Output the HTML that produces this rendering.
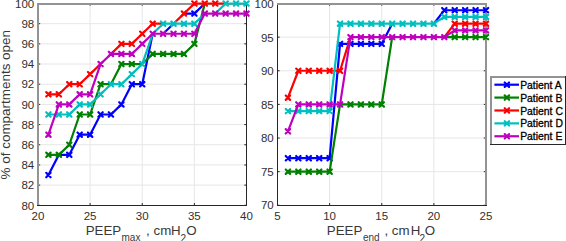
<!DOCTYPE html>
<html><head><meta charset="utf-8"><title>PEEP chart</title>
<style>
html,body{margin:0;padding:0;background:#fff;}
body{width:566px;height:241px;overflow:hidden;font-family:"Liberation Sans", sans-serif;}
svg{display:block;}
</style></head><body>
<svg width="566" height="241" viewBox="0 0 566 241" font-family='"Liberation Sans", sans-serif' fill="#303030"><defs><clipPath id="cl"><rect x="38.0" y="0" width="213.5" height="208.3"/></clipPath><clipPath id="cr"><rect x="277.5" y="0" width="213.5" height="208.3"/></clipPath></defs><line x1="90.12" y1="3.50" x2="90.12" y2="205.30" stroke="#e6e6e6" stroke-width="1"/><line x1="142.25" y1="3.50" x2="142.25" y2="205.30" stroke="#e6e6e6" stroke-width="1"/><line x1="194.38" y1="3.50" x2="194.38" y2="205.30" stroke="#e6e6e6" stroke-width="1"/><line x1="38.00" y1="185.12" x2="246.50" y2="185.12" stroke="#e6e6e6" stroke-width="1"/><line x1="38.00" y1="164.94" x2="246.50" y2="164.94" stroke="#e6e6e6" stroke-width="1"/><line x1="38.00" y1="144.76" x2="246.50" y2="144.76" stroke="#e6e6e6" stroke-width="1"/><line x1="38.00" y1="124.58" x2="246.50" y2="124.58" stroke="#e6e6e6" stroke-width="1"/><line x1="38.00" y1="104.40" x2="246.50" y2="104.40" stroke="#e6e6e6" stroke-width="1"/><line x1="38.00" y1="84.22" x2="246.50" y2="84.22" stroke="#e6e6e6" stroke-width="1"/><line x1="38.00" y1="64.04" x2="246.50" y2="64.04" stroke="#e6e6e6" stroke-width="1"/><line x1="38.00" y1="43.86" x2="246.50" y2="43.86" stroke="#e6e6e6" stroke-width="1"/><line x1="38.00" y1="23.68" x2="246.50" y2="23.68" stroke="#e6e6e6" stroke-width="1"/><line x1="38.00" y1="205.30" x2="38.00" y2="203.10" stroke="#262626" stroke-width="1"/><line x1="38.00" y1="3.50" x2="38.00" y2="5.70" stroke="#262626" stroke-width="1"/><line x1="90.12" y1="205.30" x2="90.12" y2="203.10" stroke="#262626" stroke-width="1"/><line x1="90.12" y1="3.50" x2="90.12" y2="5.70" stroke="#262626" stroke-width="1"/><line x1="142.25" y1="205.30" x2="142.25" y2="203.10" stroke="#262626" stroke-width="1"/><line x1="142.25" y1="3.50" x2="142.25" y2="5.70" stroke="#262626" stroke-width="1"/><line x1="194.38" y1="205.30" x2="194.38" y2="203.10" stroke="#262626" stroke-width="1"/><line x1="194.38" y1="3.50" x2="194.38" y2="5.70" stroke="#262626" stroke-width="1"/><line x1="246.50" y1="205.30" x2="246.50" y2="203.10" stroke="#262626" stroke-width="1"/><line x1="246.50" y1="3.50" x2="246.50" y2="5.70" stroke="#262626" stroke-width="1"/><line x1="38.00" y1="205.30" x2="40.20" y2="205.30" stroke="#262626" stroke-width="1"/><line x1="246.50" y1="205.30" x2="244.30" y2="205.30" stroke="#262626" stroke-width="1"/><line x1="38.00" y1="185.12" x2="40.20" y2="185.12" stroke="#262626" stroke-width="1"/><line x1="246.50" y1="185.12" x2="244.30" y2="185.12" stroke="#262626" stroke-width="1"/><line x1="38.00" y1="164.94" x2="40.20" y2="164.94" stroke="#262626" stroke-width="1"/><line x1="246.50" y1="164.94" x2="244.30" y2="164.94" stroke="#262626" stroke-width="1"/><line x1="38.00" y1="144.76" x2="40.20" y2="144.76" stroke="#262626" stroke-width="1"/><line x1="246.50" y1="144.76" x2="244.30" y2="144.76" stroke="#262626" stroke-width="1"/><line x1="38.00" y1="124.58" x2="40.20" y2="124.58" stroke="#262626" stroke-width="1"/><line x1="246.50" y1="124.58" x2="244.30" y2="124.58" stroke="#262626" stroke-width="1"/><line x1="38.00" y1="104.40" x2="40.20" y2="104.40" stroke="#262626" stroke-width="1"/><line x1="246.50" y1="104.40" x2="244.30" y2="104.40" stroke="#262626" stroke-width="1"/><line x1="38.00" y1="84.22" x2="40.20" y2="84.22" stroke="#262626" stroke-width="1"/><line x1="246.50" y1="84.22" x2="244.30" y2="84.22" stroke="#262626" stroke-width="1"/><line x1="38.00" y1="64.04" x2="40.20" y2="64.04" stroke="#262626" stroke-width="1"/><line x1="246.50" y1="64.04" x2="244.30" y2="64.04" stroke="#262626" stroke-width="1"/><line x1="38.00" y1="43.86" x2="40.20" y2="43.86" stroke="#262626" stroke-width="1"/><line x1="246.50" y1="43.86" x2="244.30" y2="43.86" stroke="#262626" stroke-width="1"/><line x1="38.00" y1="23.68" x2="40.20" y2="23.68" stroke="#262626" stroke-width="1"/><line x1="246.50" y1="23.68" x2="244.30" y2="23.68" stroke="#262626" stroke-width="1"/><line x1="38.00" y1="3.50" x2="40.20" y2="3.50" stroke="#262626" stroke-width="1"/><line x1="246.50" y1="3.50" x2="244.30" y2="3.50" stroke="#262626" stroke-width="1"/><rect x="37" y="3" width="2" height="203" fill="#939393"/><rect x="37" y="3" width="210" height="2" fill="#939393"/><rect x="246" y="3" width="1" height="203" fill="#262626"/><rect x="37" y="205" width="210" height="1" fill="#262626"/><g clip-path="url(#cl)"><path d="M48.42 175.03L58.85 154.85L69.28 154.85L79.70 134.67L90.12 134.67L100.55 114.49L110.97 114.49L121.40 104.40L131.82 84.22L142.25 84.22L152.68 33.77" stroke="#0000ff" stroke-width="2.2" fill="none" stroke-linejoin="round" stroke-linecap="butt"/><path d="M163.10 33.77L173.53 23.68" stroke="#0000ff" stroke-width="2.2" fill="none" stroke-linejoin="round" stroke-linecap="butt"/><path d="M183.95 13.59L194.38 13.59L204.80 3.50" stroke="#0000ff" stroke-width="2.2" fill="none" stroke-linejoin="round" stroke-linecap="butt"/><path d="M46.22 172.83L50.62 177.23M46.22 177.23L50.62 172.83" stroke="#0000ff" stroke-width="2.2" fill="none" stroke-linecap="round"/><path d="M67.08 152.65L71.48 157.05M67.08 157.05L71.48 152.65" stroke="#0000ff" stroke-width="2.2" fill="none" stroke-linecap="round"/><path d="M77.50 132.47L81.90 136.87M77.50 136.87L81.90 132.47" stroke="#0000ff" stroke-width="2.2" fill="none" stroke-linecap="round"/><path d="M87.92 132.47L92.33 136.87M87.92 136.87L92.33 132.47" stroke="#0000ff" stroke-width="2.2" fill="none" stroke-linecap="round"/><path d="M98.35 112.29L102.75 116.69M98.35 116.69L102.75 112.29" stroke="#0000ff" stroke-width="2.2" fill="none" stroke-linecap="round"/><path d="M108.77 112.29L113.17 116.69M108.77 116.69L113.17 112.29" stroke="#0000ff" stroke-width="2.2" fill="none" stroke-linecap="round"/><path d="M119.20 102.20L123.60 106.60M119.20 106.60L123.60 102.20" stroke="#0000ff" stroke-width="2.2" fill="none" stroke-linecap="round"/><path d="M129.62 82.02L134.02 86.42M129.62 86.42L134.02 82.02" stroke="#0000ff" stroke-width="2.2" fill="none" stroke-linecap="round"/><path d="M140.05 82.02L144.45 86.42M140.05 86.42L144.45 82.02" stroke="#0000ff" stroke-width="2.2" fill="none" stroke-linecap="round"/><path d="M192.18 11.39L196.57 15.79M192.18 15.79L196.57 11.39" stroke="#0000ff" stroke-width="2.2" fill="none" stroke-linecap="round"/></g><g clip-path="url(#cl)"><path d="M48.42 154.85L58.85 154.85L69.28 144.76L79.70 114.49L90.12 114.49L100.55 84.22L110.97 84.22L121.40 64.04L131.82 64.04L142.25 64.04L152.68 53.95L163.10 53.95L173.53 53.95L183.95 53.95L194.38 43.86L204.80 3.50" stroke="#008000" stroke-width="2.2" fill="none" stroke-linejoin="round" stroke-linecap="butt"/><path d="M46.22 152.65L50.62 157.05M46.22 157.05L50.62 152.65" stroke="#008000" stroke-width="2.2" fill="none" stroke-linecap="round"/><path d="M56.65 152.65L61.05 157.05M56.65 157.05L61.05 152.65" stroke="#008000" stroke-width="2.2" fill="none" stroke-linecap="round"/><path d="M67.08 142.56L71.48 146.96M67.08 146.96L71.48 142.56" stroke="#008000" stroke-width="2.2" fill="none" stroke-linecap="round"/><path d="M77.50 112.29L81.90 116.69M77.50 116.69L81.90 112.29" stroke="#008000" stroke-width="2.2" fill="none" stroke-linecap="round"/><path d="M87.92 112.29L92.33 116.69M87.92 116.69L92.33 112.29" stroke="#008000" stroke-width="2.2" fill="none" stroke-linecap="round"/><path d="M98.35 82.02L102.75 86.42M98.35 86.42L102.75 82.02" stroke="#008000" stroke-width="2.2" fill="none" stroke-linecap="round"/><path d="M119.20 61.84L123.60 66.24M119.20 66.24L123.60 61.84" stroke="#008000" stroke-width="2.2" fill="none" stroke-linecap="round"/><path d="M129.62 61.84L134.02 66.24M129.62 66.24L134.02 61.84" stroke="#008000" stroke-width="2.2" fill="none" stroke-linecap="round"/><path d="M150.48 51.75L154.88 56.15M150.48 56.15L154.88 51.75" stroke="#008000" stroke-width="2.2" fill="none" stroke-linecap="round"/><path d="M160.90 51.75L165.30 56.15M160.90 56.15L165.30 51.75" stroke="#008000" stroke-width="2.2" fill="none" stroke-linecap="round"/><path d="M171.33 51.75L175.72 56.15M171.33 56.15L175.72 51.75" stroke="#008000" stroke-width="2.2" fill="none" stroke-linecap="round"/><path d="M181.75 51.75L186.15 56.15M181.75 56.15L186.15 51.75" stroke="#008000" stroke-width="2.2" fill="none" stroke-linecap="round"/><path d="M192.18 41.66L196.57 46.06M192.18 46.06L196.57 41.66" stroke="#008000" stroke-width="2.2" fill="none" stroke-linecap="round"/></g><g clip-path="url(#cl)"><path d="M48.42 94.31L58.85 94.31L69.28 84.22L79.70 84.22L90.12 74.13L100.55 64.04" stroke="#ff0000" stroke-width="2.2" fill="none" stroke-linejoin="round" stroke-linecap="butt"/><path d="M110.97 53.95L121.40 43.86L131.82 43.86L142.25 33.77L152.68 23.68L163.10 23.68" stroke="#ff0000" stroke-width="2.2" fill="none" stroke-linejoin="round" stroke-linecap="butt"/><path d="M173.53 23.68L183.95 13.59L194.38 3.50L204.80 3.50L215.22 3.50L225.65 3.50" stroke="#ff0000" stroke-width="2.2" fill="none" stroke-linejoin="round" stroke-linecap="butt"/><path d="M46.22 92.11L50.62 96.51M46.22 96.51L50.62 92.11" stroke="#ff0000" stroke-width="2.2" fill="none" stroke-linecap="round"/><path d="M56.65 92.11L61.05 96.51M56.65 96.51L61.05 92.11" stroke="#ff0000" stroke-width="2.2" fill="none" stroke-linecap="round"/><path d="M67.08 82.02L71.48 86.42M67.08 86.42L71.48 82.02" stroke="#ff0000" stroke-width="2.2" fill="none" stroke-linecap="round"/><path d="M77.50 82.02L81.90 86.42M77.50 86.42L81.90 82.02" stroke="#ff0000" stroke-width="2.2" fill="none" stroke-linecap="round"/><path d="M87.92 71.93L92.33 76.33M87.92 76.33L92.33 71.93" stroke="#ff0000" stroke-width="2.2" fill="none" stroke-linecap="round"/><path d="M119.20 41.66L123.60 46.06M119.20 46.06L123.60 41.66" stroke="#ff0000" stroke-width="2.2" fill="none" stroke-linecap="round"/><path d="M129.62 41.66L134.02 46.06M129.62 46.06L134.02 41.66" stroke="#ff0000" stroke-width="2.2" fill="none" stroke-linecap="round"/><path d="M140.05 31.57L144.45 35.97M140.05 35.97L144.45 31.57" stroke="#ff0000" stroke-width="2.2" fill="none" stroke-linecap="round"/><path d="M150.48 21.48L154.88 25.88M150.48 25.88L154.88 21.48" stroke="#ff0000" stroke-width="2.2" fill="none" stroke-linecap="round"/><path d="M181.75 11.39L186.15 15.79M181.75 15.79L186.15 11.39" stroke="#ff0000" stroke-width="2.2" fill="none" stroke-linecap="round"/><path d="M192.18 1.30L196.57 5.70M192.18 5.70L196.57 1.30" stroke="#ff0000" stroke-width="2.2" fill="none" stroke-linecap="round"/><path d="M202.60 1.30L207.00 5.70M202.60 5.70L207.00 1.30" stroke="#ff0000" stroke-width="2.2" fill="none" stroke-linecap="round"/><path d="M213.03 1.30L217.42 5.70M213.03 5.70L217.42 1.30" stroke="#ff0000" stroke-width="2.2" fill="none" stroke-linecap="round"/></g><g clip-path="url(#cl)"><path d="M48.42 114.49L58.85 114.49L69.28 114.49L79.70 104.40L90.12 104.40L100.55 94.31L110.97 84.22L121.40 84.22L131.82 74.13L142.25 64.04L152.68 33.77L163.10 23.68L173.53 23.68L183.95 23.68L194.38 23.68L204.80 13.59" stroke="#00bfbf" stroke-width="2.2" fill="none" stroke-linejoin="round" stroke-linecap="butt"/><path d="M215.22 13.59L225.65 3.50L236.07 3.50L246.50 3.50" stroke="#00bfbf" stroke-width="2.2" fill="none" stroke-linejoin="round" stroke-linecap="butt"/><path d="M46.22 112.29L50.62 116.69M46.22 116.69L50.62 112.29" stroke="#00bfbf" stroke-width="2.2" fill="none" stroke-linecap="round"/><path d="M56.65 112.29L61.05 116.69M56.65 116.69L61.05 112.29" stroke="#00bfbf" stroke-width="2.2" fill="none" stroke-linecap="round"/><path d="M67.08 112.29L71.48 116.69M67.08 116.69L71.48 112.29" stroke="#00bfbf" stroke-width="2.2" fill="none" stroke-linecap="round"/><path d="M77.50 102.20L81.90 106.60M77.50 106.60L81.90 102.20" stroke="#00bfbf" stroke-width="2.2" fill="none" stroke-linecap="round"/><path d="M87.92 102.20L92.33 106.60M87.92 106.60L92.33 102.20" stroke="#00bfbf" stroke-width="2.2" fill="none" stroke-linecap="round"/><path d="M98.35 92.11L102.75 96.51M98.35 96.51L102.75 92.11" stroke="#00bfbf" stroke-width="2.2" fill="none" stroke-linecap="round"/><path d="M108.77 82.02L113.17 86.42M108.77 86.42L113.17 82.02" stroke="#00bfbf" stroke-width="2.2" fill="none" stroke-linecap="round"/><path d="M119.20 82.02L123.60 86.42M119.20 86.42L123.60 82.02" stroke="#00bfbf" stroke-width="2.2" fill="none" stroke-linecap="round"/><path d="M129.62 71.93L134.02 76.33M129.62 76.33L134.02 71.93" stroke="#00bfbf" stroke-width="2.2" fill="none" stroke-linecap="round"/><path d="M140.05 61.84L144.45 66.24M140.05 66.24L144.45 61.84" stroke="#00bfbf" stroke-width="2.2" fill="none" stroke-linecap="round"/><path d="M160.90 21.48L165.30 25.88M160.90 25.88L165.30 21.48" stroke="#00bfbf" stroke-width="2.2" fill="none" stroke-linecap="round"/><path d="M171.33 21.48L175.72 25.88M171.33 25.88L175.72 21.48" stroke="#00bfbf" stroke-width="2.2" fill="none" stroke-linecap="round"/><path d="M181.75 21.48L186.15 25.88M181.75 25.88L186.15 21.48" stroke="#00bfbf" stroke-width="2.2" fill="none" stroke-linecap="round"/><path d="M192.18 21.48L196.57 25.88M192.18 25.88L196.57 21.48" stroke="#00bfbf" stroke-width="2.2" fill="none" stroke-linecap="round"/><path d="M223.45 1.30L227.85 5.70M223.45 5.70L227.85 1.30" stroke="#00bfbf" stroke-width="2.2" fill="none" stroke-linecap="round"/><path d="M233.88 1.30L238.27 5.70M233.88 5.70L238.27 1.30" stroke="#00bfbf" stroke-width="2.2" fill="none" stroke-linecap="round"/><path d="M244.30 1.30L248.70 5.70M244.30 5.70L248.70 1.30" stroke="#00bfbf" stroke-width="2.2" fill="none" stroke-linecap="round"/></g><g clip-path="url(#cl)"><path d="M48.42 134.67L58.85 104.40L69.28 104.40L79.70 94.31L90.12 94.31L100.55 64.04L110.97 53.95L121.40 53.95L131.82 53.95L142.25 43.86L152.68 33.77L163.10 33.77L173.53 33.77L183.95 33.77L194.38 33.77L204.80 13.59L215.22 13.59L225.65 13.59L236.07 13.59L246.50 13.59" stroke="#bf00bf" stroke-width="2.2" fill="none" stroke-linejoin="round" stroke-linecap="butt"/><path d="M46.22 132.47L50.62 136.87M46.22 136.87L50.62 132.47" stroke="#bf00bf" stroke-width="2.2" fill="none" stroke-linecap="round"/><path d="M56.65 102.20L61.05 106.60M56.65 106.60L61.05 102.20" stroke="#bf00bf" stroke-width="2.2" fill="none" stroke-linecap="round"/><path d="M67.08 102.20L71.48 106.60M67.08 106.60L71.48 102.20" stroke="#bf00bf" stroke-width="2.2" fill="none" stroke-linecap="round"/><path d="M77.50 92.11L81.90 96.51M77.50 96.51L81.90 92.11" stroke="#bf00bf" stroke-width="2.2" fill="none" stroke-linecap="round"/><path d="M87.92 92.11L92.33 96.51M87.92 96.51L92.33 92.11" stroke="#bf00bf" stroke-width="2.2" fill="none" stroke-linecap="round"/><path d="M98.35 61.84L102.75 66.24M98.35 66.24L102.75 61.84" stroke="#bf00bf" stroke-width="2.2" fill="none" stroke-linecap="round"/><path d="M108.77 51.75L113.17 56.15M108.77 56.15L113.17 51.75" stroke="#bf00bf" stroke-width="2.2" fill="none" stroke-linecap="round"/><path d="M119.20 51.75L123.60 56.15M119.20 56.15L123.60 51.75" stroke="#bf00bf" stroke-width="2.2" fill="none" stroke-linecap="round"/><path d="M129.62 51.75L134.02 56.15M129.62 56.15L134.02 51.75" stroke="#bf00bf" stroke-width="2.2" fill="none" stroke-linecap="round"/><path d="M140.05 41.66L144.45 46.06M140.05 46.06L144.45 41.66" stroke="#bf00bf" stroke-width="2.2" fill="none" stroke-linecap="round"/><path d="M150.48 31.57L154.88 35.97M150.48 35.97L154.88 31.57" stroke="#bf00bf" stroke-width="2.2" fill="none" stroke-linecap="round"/><path d="M160.90 31.57L165.30 35.97M160.90 35.97L165.30 31.57" stroke="#bf00bf" stroke-width="2.2" fill="none" stroke-linecap="round"/><path d="M171.33 31.57L175.72 35.97M171.33 35.97L175.72 31.57" stroke="#bf00bf" stroke-width="2.2" fill="none" stroke-linecap="round"/><path d="M181.75 31.57L186.15 35.97M181.75 35.97L186.15 31.57" stroke="#bf00bf" stroke-width="2.2" fill="none" stroke-linecap="round"/><path d="M192.18 31.57L196.57 35.97M192.18 35.97L196.57 31.57" stroke="#bf00bf" stroke-width="2.2" fill="none" stroke-linecap="round"/><path d="M202.60 11.39L207.00 15.79M202.60 15.79L207.00 11.39" stroke="#bf00bf" stroke-width="2.2" fill="none" stroke-linecap="round"/><path d="M213.03 11.39L217.42 15.79M213.03 15.79L217.42 11.39" stroke="#bf00bf" stroke-width="2.2" fill="none" stroke-linecap="round"/><path d="M223.45 11.39L227.85 15.79M223.45 15.79L227.85 11.39" stroke="#bf00bf" stroke-width="2.2" fill="none" stroke-linecap="round"/><path d="M233.88 11.39L238.27 15.79M233.88 15.79L238.27 11.39" stroke="#bf00bf" stroke-width="2.2" fill="none" stroke-linecap="round"/><path d="M244.30 11.39L248.70 15.79M244.30 15.79L248.70 11.39" stroke="#bf00bf" stroke-width="2.2" fill="none" stroke-linecap="round"/></g><text x="38.00" y="219.8" text-anchor="middle" font-size="11.5">20</text><text x="90.12" y="219.8" text-anchor="middle" font-size="11.5">25</text><text x="142.25" y="219.8" text-anchor="middle" font-size="11.5">30</text><text x="194.38" y="219.8" text-anchor="middle" font-size="11.5">35</text><text x="246.50" y="219.8" text-anchor="middle" font-size="11.5">40</text><text x="34.20" y="210.30" text-anchor="end" font-size="11.5">80</text><text x="34.20" y="189.22" text-anchor="end" font-size="11.5">82</text><text x="34.20" y="169.04" text-anchor="end" font-size="11.5">84</text><text x="34.20" y="148.86" text-anchor="end" font-size="11.5">86</text><text x="34.20" y="128.68" text-anchor="end" font-size="11.5">88</text><text x="34.20" y="108.50" text-anchor="end" font-size="11.5">90</text><text x="34.20" y="88.32" text-anchor="end" font-size="11.5">92</text><text x="34.20" y="68.14" text-anchor="end" font-size="11.5">94</text><text x="34.20" y="47.96" text-anchor="end" font-size="11.5">96</text><text x="34.20" y="27.78" text-anchor="end" font-size="11.5">98</text><text x="34.20" y="7.60" text-anchor="end" font-size="11.5">100</text><line x1="329.62" y1="3.50" x2="329.62" y2="205.30" stroke="#e6e6e6" stroke-width="1"/><line x1="381.75" y1="3.50" x2="381.75" y2="205.30" stroke="#e6e6e6" stroke-width="1"/><line x1="433.88" y1="3.50" x2="433.88" y2="205.30" stroke="#e6e6e6" stroke-width="1"/><line x1="277.50" y1="171.67" x2="486.00" y2="171.67" stroke="#e6e6e6" stroke-width="1"/><line x1="277.50" y1="138.03" x2="486.00" y2="138.03" stroke="#e6e6e6" stroke-width="1"/><line x1="277.50" y1="104.40" x2="486.00" y2="104.40" stroke="#e6e6e6" stroke-width="1"/><line x1="277.50" y1="70.77" x2="486.00" y2="70.77" stroke="#e6e6e6" stroke-width="1"/><line x1="277.50" y1="37.13" x2="486.00" y2="37.13" stroke="#e6e6e6" stroke-width="1"/><line x1="277.50" y1="205.30" x2="277.50" y2="203.10" stroke="#262626" stroke-width="1"/><line x1="277.50" y1="3.50" x2="277.50" y2="5.70" stroke="#262626" stroke-width="1"/><line x1="329.62" y1="205.30" x2="329.62" y2="203.10" stroke="#262626" stroke-width="1"/><line x1="329.62" y1="3.50" x2="329.62" y2="5.70" stroke="#262626" stroke-width="1"/><line x1="381.75" y1="205.30" x2="381.75" y2="203.10" stroke="#262626" stroke-width="1"/><line x1="381.75" y1="3.50" x2="381.75" y2="5.70" stroke="#262626" stroke-width="1"/><line x1="433.88" y1="205.30" x2="433.88" y2="203.10" stroke="#262626" stroke-width="1"/><line x1="433.88" y1="3.50" x2="433.88" y2="5.70" stroke="#262626" stroke-width="1"/><line x1="486.00" y1="205.30" x2="486.00" y2="203.10" stroke="#262626" stroke-width="1"/><line x1="486.00" y1="3.50" x2="486.00" y2="5.70" stroke="#262626" stroke-width="1"/><line x1="277.50" y1="205.30" x2="279.70" y2="205.30" stroke="#262626" stroke-width="1"/><line x1="486.00" y1="205.30" x2="483.80" y2="205.30" stroke="#262626" stroke-width="1"/><line x1="277.50" y1="171.67" x2="279.70" y2="171.67" stroke="#262626" stroke-width="1"/><line x1="486.00" y1="171.67" x2="483.80" y2="171.67" stroke="#262626" stroke-width="1"/><line x1="277.50" y1="138.03" x2="279.70" y2="138.03" stroke="#262626" stroke-width="1"/><line x1="486.00" y1="138.03" x2="483.80" y2="138.03" stroke="#262626" stroke-width="1"/><line x1="277.50" y1="104.40" x2="279.70" y2="104.40" stroke="#262626" stroke-width="1"/><line x1="486.00" y1="104.40" x2="483.80" y2="104.40" stroke="#262626" stroke-width="1"/><line x1="277.50" y1="70.77" x2="279.70" y2="70.77" stroke="#262626" stroke-width="1"/><line x1="486.00" y1="70.77" x2="483.80" y2="70.77" stroke="#262626" stroke-width="1"/><line x1="277.50" y1="37.13" x2="279.70" y2="37.13" stroke="#262626" stroke-width="1"/><line x1="486.00" y1="37.13" x2="483.80" y2="37.13" stroke="#262626" stroke-width="1"/><line x1="277.50" y1="3.50" x2="279.70" y2="3.50" stroke="#262626" stroke-width="1"/><line x1="486.00" y1="3.50" x2="483.80" y2="3.50" stroke="#262626" stroke-width="1"/><rect x="277" y="3" width="1" height="203" fill="#262626"/><rect x="277" y="3" width="210" height="2" fill="#939393"/><rect x="485" y="3" width="2" height="203" fill="#939393"/><rect x="277" y="205" width="210" height="1" fill="#262626"/><g clip-path="url(#cr)"><path d="M287.93 158.21L298.35 158.21L308.77 158.21L319.20 158.21L329.62 158.21L340.05 43.86L350.48 43.86L360.90 43.86L371.32 43.86L381.75 43.86L392.18 23.68" stroke="#0000ff" stroke-width="2.2" fill="none" stroke-linejoin="round" stroke-linecap="butt"/><path d="M433.88 23.68L444.30 10.23L454.73 10.23L465.15 10.23L475.57 10.23L486.00 10.23" stroke="#0000ff" stroke-width="2.2" fill="none" stroke-linejoin="round" stroke-linecap="butt"/><path d="M285.73 156.01L290.12 160.41M285.73 160.41L290.12 156.01" stroke="#0000ff" stroke-width="2.2" fill="none" stroke-linecap="round"/><path d="M296.15 156.01L300.55 160.41M296.15 160.41L300.55 156.01" stroke="#0000ff" stroke-width="2.2" fill="none" stroke-linecap="round"/><path d="M306.57 156.01L310.97 160.41M306.57 160.41L310.97 156.01" stroke="#0000ff" stroke-width="2.2" fill="none" stroke-linecap="round"/><path d="M317.00 156.01L321.40 160.41M317.00 160.41L321.40 156.01" stroke="#0000ff" stroke-width="2.2" fill="none" stroke-linecap="round"/><path d="M327.43 156.01L331.82 160.41M327.43 160.41L331.82 156.01" stroke="#0000ff" stroke-width="2.2" fill="none" stroke-linecap="round"/><path d="M337.85 41.66L342.25 46.06M337.85 46.06L342.25 41.66" stroke="#0000ff" stroke-width="2.2" fill="none" stroke-linecap="round"/><path d="M348.28 41.66L352.68 46.06M348.28 46.06L352.68 41.66" stroke="#0000ff" stroke-width="2.2" fill="none" stroke-linecap="round"/><path d="M358.70 41.66L363.10 46.06M358.70 46.06L363.10 41.66" stroke="#0000ff" stroke-width="2.2" fill="none" stroke-linecap="round"/><path d="M369.12 41.66L373.52 46.06M369.12 46.06L373.52 41.66" stroke="#0000ff" stroke-width="2.2" fill="none" stroke-linecap="round"/><path d="M379.55 41.66L383.95 46.06M379.55 46.06L383.95 41.66" stroke="#0000ff" stroke-width="2.2" fill="none" stroke-linecap="round"/><path d="M442.10 8.03L446.50 12.43M442.10 12.43L446.50 8.03" stroke="#0000ff" stroke-width="2.2" fill="none" stroke-linecap="round"/><path d="M452.53 8.03L456.93 12.43M452.53 12.43L456.93 8.03" stroke="#0000ff" stroke-width="2.2" fill="none" stroke-linecap="round"/><path d="M462.95 8.03L467.35 12.43M462.95 12.43L467.35 8.03" stroke="#0000ff" stroke-width="2.2" fill="none" stroke-linecap="round"/><path d="M473.38 8.03L477.77 12.43M473.38 12.43L477.77 8.03" stroke="#0000ff" stroke-width="2.2" fill="none" stroke-linecap="round"/><path d="M483.80 8.03L488.20 12.43M483.80 12.43L488.20 8.03" stroke="#0000ff" stroke-width="2.2" fill="none" stroke-linecap="round"/></g><g clip-path="url(#cr)"><path d="M287.93 171.67L298.35 171.67L308.77 171.67L319.20 171.67L329.62 171.67L340.05 104.40L350.48 104.40L360.90 104.40L371.32 104.40L381.75 104.40L392.18 37.13" stroke="#008000" stroke-width="2.2" fill="none" stroke-linejoin="round" stroke-linecap="butt"/><path d="M444.30 37.13L454.73 37.13L465.15 37.13L475.57 37.13L486.00 37.13" stroke="#008000" stroke-width="2.2" fill="none" stroke-linejoin="round" stroke-linecap="butt"/><path d="M285.73 169.47L290.12 173.87M285.73 173.87L290.12 169.47" stroke="#008000" stroke-width="2.2" fill="none" stroke-linecap="round"/><path d="M296.15 169.47L300.55 173.87M296.15 173.87L300.55 169.47" stroke="#008000" stroke-width="2.2" fill="none" stroke-linecap="round"/><path d="M306.57 169.47L310.97 173.87M306.57 173.87L310.97 169.47" stroke="#008000" stroke-width="2.2" fill="none" stroke-linecap="round"/><path d="M317.00 169.47L321.40 173.87M317.00 173.87L321.40 169.47" stroke="#008000" stroke-width="2.2" fill="none" stroke-linecap="round"/><path d="M327.43 169.47L331.82 173.87M327.43 173.87L331.82 169.47" stroke="#008000" stroke-width="2.2" fill="none" stroke-linecap="round"/><path d="M348.28 102.20L352.68 106.60M348.28 106.60L352.68 102.20" stroke="#008000" stroke-width="2.2" fill="none" stroke-linecap="round"/><path d="M358.70 102.20L363.10 106.60M358.70 106.60L363.10 102.20" stroke="#008000" stroke-width="2.2" fill="none" stroke-linecap="round"/><path d="M369.12 102.20L373.52 106.60M369.12 106.60L373.52 102.20" stroke="#008000" stroke-width="2.2" fill="none" stroke-linecap="round"/><path d="M379.55 102.20L383.95 106.60M379.55 106.60L383.95 102.20" stroke="#008000" stroke-width="2.2" fill="none" stroke-linecap="round"/><path d="M452.53 34.93L456.93 39.33M452.53 39.33L456.93 34.93" stroke="#008000" stroke-width="2.2" fill="none" stroke-linecap="round"/><path d="M462.95 34.93L467.35 39.33M462.95 39.33L467.35 34.93" stroke="#008000" stroke-width="2.2" fill="none" stroke-linecap="round"/><path d="M473.38 34.93L477.77 39.33M473.38 39.33L477.77 34.93" stroke="#008000" stroke-width="2.2" fill="none" stroke-linecap="round"/><path d="M483.80 34.93L488.20 39.33M483.80 39.33L488.20 34.93" stroke="#008000" stroke-width="2.2" fill="none" stroke-linecap="round"/></g><g clip-path="url(#cr)"><path d="M287.93 97.67L298.35 70.77L308.77 70.77L319.20 70.77L329.62 70.77L340.05 70.77L350.48 37.13" stroke="#ff0000" stroke-width="2.2" fill="none" stroke-linejoin="round" stroke-linecap="butt"/><path d="M444.30 37.13L454.73 23.68L465.15 23.68L475.57 23.68L486.00 23.68" stroke="#ff0000" stroke-width="2.2" fill="none" stroke-linejoin="round" stroke-linecap="butt"/><path d="M285.73 95.47L290.12 99.87M285.73 99.87L290.12 95.47" stroke="#ff0000" stroke-width="2.2" fill="none" stroke-linecap="round"/><path d="M296.15 68.57L300.55 72.97M296.15 72.97L300.55 68.57" stroke="#ff0000" stroke-width="2.2" fill="none" stroke-linecap="round"/><path d="M306.57 68.57L310.97 72.97M306.57 72.97L310.97 68.57" stroke="#ff0000" stroke-width="2.2" fill="none" stroke-linecap="round"/><path d="M317.00 68.57L321.40 72.97M317.00 72.97L321.40 68.57" stroke="#ff0000" stroke-width="2.2" fill="none" stroke-linecap="round"/><path d="M327.43 68.57L331.82 72.97M327.43 72.97L331.82 68.57" stroke="#ff0000" stroke-width="2.2" fill="none" stroke-linecap="round"/><path d="M337.85 68.57L342.25 72.97M337.85 72.97L342.25 68.57" stroke="#ff0000" stroke-width="2.2" fill="none" stroke-linecap="round"/><path d="M452.53 21.48L456.93 25.88M452.53 25.88L456.93 21.48" stroke="#ff0000" stroke-width="2.2" fill="none" stroke-linecap="round"/><path d="M462.95 21.48L467.35 25.88M462.95 25.88L467.35 21.48" stroke="#ff0000" stroke-width="2.2" fill="none" stroke-linecap="round"/><path d="M473.38 21.48L477.77 25.88M473.38 25.88L477.77 21.48" stroke="#ff0000" stroke-width="2.2" fill="none" stroke-linecap="round"/><path d="M483.80 21.48L488.20 25.88M483.80 25.88L488.20 21.48" stroke="#ff0000" stroke-width="2.2" fill="none" stroke-linecap="round"/></g><g clip-path="url(#cr)"><path d="M287.93 111.13L298.35 111.13L308.77 111.13L319.20 111.13L329.62 111.13L340.05 23.68L350.48 23.68L360.90 23.68L371.32 23.68L381.75 23.68L392.18 23.68L402.60 23.68L413.02 23.68L423.45 23.68L433.88 23.68L444.30 16.95L454.73 16.95L465.15 16.95L475.57 16.95L486.00 16.95" stroke="#00bfbf" stroke-width="2.2" fill="none" stroke-linejoin="round" stroke-linecap="butt"/><path d="M285.73 108.93L290.12 113.33M285.73 113.33L290.12 108.93" stroke="#00bfbf" stroke-width="2.2" fill="none" stroke-linecap="round"/><path d="M296.15 108.93L300.55 113.33M296.15 113.33L300.55 108.93" stroke="#00bfbf" stroke-width="2.2" fill="none" stroke-linecap="round"/><path d="M306.57 108.93L310.97 113.33M306.57 113.33L310.97 108.93" stroke="#00bfbf" stroke-width="2.2" fill="none" stroke-linecap="round"/><path d="M317.00 108.93L321.40 113.33M317.00 113.33L321.40 108.93" stroke="#00bfbf" stroke-width="2.2" fill="none" stroke-linecap="round"/><path d="M327.43 108.93L331.82 113.33M327.43 113.33L331.82 108.93" stroke="#00bfbf" stroke-width="2.2" fill="none" stroke-linecap="round"/><path d="M337.85 21.48L342.25 25.88M337.85 25.88L342.25 21.48" stroke="#00bfbf" stroke-width="2.2" fill="none" stroke-linecap="round"/><path d="M348.28 21.48L352.68 25.88M348.28 25.88L352.68 21.48" stroke="#00bfbf" stroke-width="2.2" fill="none" stroke-linecap="round"/><path d="M358.70 21.48L363.10 25.88M358.70 25.88L363.10 21.48" stroke="#00bfbf" stroke-width="2.2" fill="none" stroke-linecap="round"/><path d="M369.12 21.48L373.52 25.88M369.12 25.88L373.52 21.48" stroke="#00bfbf" stroke-width="2.2" fill="none" stroke-linecap="round"/><path d="M379.55 21.48L383.95 25.88M379.55 25.88L383.95 21.48" stroke="#00bfbf" stroke-width="2.2" fill="none" stroke-linecap="round"/><path d="M389.98 21.48L394.38 25.88M389.98 25.88L394.38 21.48" stroke="#00bfbf" stroke-width="2.2" fill="none" stroke-linecap="round"/><path d="M400.40 21.48L404.80 25.88M400.40 25.88L404.80 21.48" stroke="#00bfbf" stroke-width="2.2" fill="none" stroke-linecap="round"/><path d="M410.82 21.48L415.22 25.88M410.82 25.88L415.22 21.48" stroke="#00bfbf" stroke-width="2.2" fill="none" stroke-linecap="round"/><path d="M421.25 21.48L425.65 25.88M421.25 25.88L425.65 21.48" stroke="#00bfbf" stroke-width="2.2" fill="none" stroke-linecap="round"/><path d="M431.68 21.48L436.07 25.88M431.68 25.88L436.07 21.48" stroke="#00bfbf" stroke-width="2.2" fill="none" stroke-linecap="round"/><path d="M442.10 14.75L446.50 19.15M442.10 19.15L446.50 14.75" stroke="#00bfbf" stroke-width="2.2" fill="none" stroke-linecap="round"/><path d="M452.53 14.75L456.93 19.15M452.53 19.15L456.93 14.75" stroke="#00bfbf" stroke-width="2.2" fill="none" stroke-linecap="round"/><path d="M462.95 14.75L467.35 19.15M462.95 19.15L467.35 14.75" stroke="#00bfbf" stroke-width="2.2" fill="none" stroke-linecap="round"/><path d="M473.38 14.75L477.77 19.15M473.38 19.15L477.77 14.75" stroke="#00bfbf" stroke-width="2.2" fill="none" stroke-linecap="round"/><path d="M483.80 14.75L488.20 19.15M483.80 19.15L488.20 14.75" stroke="#00bfbf" stroke-width="2.2" fill="none" stroke-linecap="round"/></g><g clip-path="url(#cr)"><path d="M287.93 131.31L298.35 104.40L308.77 104.40L319.20 104.40L329.62 104.40L340.05 104.40L350.48 37.13L360.90 37.13L371.32 37.13L381.75 37.13L392.18 37.13L402.60 37.13L413.02 37.13L423.45 37.13L433.88 37.13L444.30 37.13L454.73 30.41L465.15 30.41L475.57 30.41L486.00 30.41" stroke="#bf00bf" stroke-width="2.2" fill="none" stroke-linejoin="round" stroke-linecap="butt"/><path d="M285.73 129.11L290.12 133.51M285.73 133.51L290.12 129.11" stroke="#bf00bf" stroke-width="2.2" fill="none" stroke-linecap="round"/><path d="M296.15 102.20L300.55 106.60M296.15 106.60L300.55 102.20" stroke="#bf00bf" stroke-width="2.2" fill="none" stroke-linecap="round"/><path d="M306.57 102.20L310.97 106.60M306.57 106.60L310.97 102.20" stroke="#bf00bf" stroke-width="2.2" fill="none" stroke-linecap="round"/><path d="M317.00 102.20L321.40 106.60M317.00 106.60L321.40 102.20" stroke="#bf00bf" stroke-width="2.2" fill="none" stroke-linecap="round"/><path d="M327.43 102.20L331.82 106.60M327.43 106.60L331.82 102.20" stroke="#bf00bf" stroke-width="2.2" fill="none" stroke-linecap="round"/><path d="M337.85 102.20L342.25 106.60M337.85 106.60L342.25 102.20" stroke="#bf00bf" stroke-width="2.2" fill="none" stroke-linecap="round"/><path d="M348.28 34.93L352.68 39.33M348.28 39.33L352.68 34.93" stroke="#bf00bf" stroke-width="2.2" fill="none" stroke-linecap="round"/><path d="M358.70 34.93L363.10 39.33M358.70 39.33L363.10 34.93" stroke="#bf00bf" stroke-width="2.2" fill="none" stroke-linecap="round"/><path d="M369.12 34.93L373.52 39.33M369.12 39.33L373.52 34.93" stroke="#bf00bf" stroke-width="2.2" fill="none" stroke-linecap="round"/><path d="M379.55 34.93L383.95 39.33M379.55 39.33L383.95 34.93" stroke="#bf00bf" stroke-width="2.2" fill="none" stroke-linecap="round"/><path d="M389.98 34.93L394.38 39.33M389.98 39.33L394.38 34.93" stroke="#bf00bf" stroke-width="2.2" fill="none" stroke-linecap="round"/><path d="M400.40 34.93L404.80 39.33M400.40 39.33L404.80 34.93" stroke="#bf00bf" stroke-width="2.2" fill="none" stroke-linecap="round"/><path d="M410.82 34.93L415.22 39.33M410.82 39.33L415.22 34.93" stroke="#bf00bf" stroke-width="2.2" fill="none" stroke-linecap="round"/><path d="M421.25 34.93L425.65 39.33M421.25 39.33L425.65 34.93" stroke="#bf00bf" stroke-width="2.2" fill="none" stroke-linecap="round"/><path d="M431.68 34.93L436.07 39.33M431.68 39.33L436.07 34.93" stroke="#bf00bf" stroke-width="2.2" fill="none" stroke-linecap="round"/><path d="M442.10 34.93L446.50 39.33M442.10 39.33L446.50 34.93" stroke="#bf00bf" stroke-width="2.2" fill="none" stroke-linecap="round"/><path d="M452.53 28.21L456.93 32.61M452.53 32.61L456.93 28.21" stroke="#bf00bf" stroke-width="2.2" fill="none" stroke-linecap="round"/><path d="M462.95 28.21L467.35 32.61M462.95 32.61L467.35 28.21" stroke="#bf00bf" stroke-width="2.2" fill="none" stroke-linecap="round"/><path d="M473.38 28.21L477.77 32.61M473.38 32.61L477.77 28.21" stroke="#bf00bf" stroke-width="2.2" fill="none" stroke-linecap="round"/><path d="M483.80 28.21L488.20 32.61M483.80 32.61L488.20 28.21" stroke="#bf00bf" stroke-width="2.2" fill="none" stroke-linecap="round"/></g><text x="277.50" y="219.8" text-anchor="middle" font-size="11.5">5</text><text x="329.62" y="219.8" text-anchor="middle" font-size="11.5">10</text><text x="381.75" y="219.8" text-anchor="middle" font-size="11.5">15</text><text x="433.88" y="219.8" text-anchor="middle" font-size="11.5">20</text><text x="486.00" y="219.8" text-anchor="middle" font-size="11.5">25</text><text x="273.70" y="209.40" text-anchor="end" font-size="11.5">70</text><text x="273.70" y="175.77" text-anchor="end" font-size="11.5">75</text><text x="273.70" y="142.13" text-anchor="end" font-size="11.5">80</text><text x="273.70" y="108.50" text-anchor="end" font-size="11.5">85</text><text x="273.70" y="74.87" text-anchor="end" font-size="11.5">90</text><text x="273.70" y="42.03" text-anchor="end" font-size="11.5">95</text><text x="273.70" y="7.60" text-anchor="end" font-size="11.5">100</text><g fill="#383838"><text x="85.71" y="234.6" font-size="13.3">PEEP</text><text x="121.54" y="241.4" font-size="10.0">max</text><text x="146.10" y="234.6" font-size="13.3">,</text><text x="153.54" y="234.6" font-size="13.3">cm</text><text x="171.11" y="234.6" font-size="13.3">H</text><text x="180.50" y="242.1" font-size="10.0">2</text><text x="186.37" y="234.6" font-size="13.3">O</text><text x="326.81" y="234.6" font-size="13.3">PEEP</text><text x="362.88" y="241.4" font-size="10.0">end</text><text x="384.50" y="234.6" font-size="13.3">,</text><text x="391.74" y="234.6" font-size="13.3">cm</text><text x="410.81" y="234.6" font-size="13.3">H</text><text x="419.40" y="242.1" font-size="10.0">2</text><text x="424.87" y="234.6" font-size="13.3">O</text><text transform="translate(9.5 104.7) rotate(-90)" text-anchor="middle" font-size="13.45">% of compartments open</text></g><rect x="490" y="76" width="76" height="69" fill="#fff"/><rect x="490" y="76" width="2" height="69" fill="#939393"/><rect x="490" y="76" width="76" height="2" fill="#939393"/><rect x="565" y="76" width="1" height="69" fill="#262626"/><rect x="490" y="144" width="76" height="1" fill="#262626"/><line x1="494.4" y1="84.70" x2="519.0" y2="84.70" stroke="#0000ff" stroke-width="2.2"/><path d="M504.70 82.50L509.10 86.90M504.70 86.90L509.10 82.50" stroke="#0000ff" stroke-width="2.2" fill="none" stroke-linecap="round"/><text x="520.15" y="88.80" font-size="10.4" fill="#000" stroke="#000" stroke-width="0.3">Patient A</text><line x1="494.4" y1="97.59" x2="519.0" y2="97.59" stroke="#008000" stroke-width="2.2"/><path d="M504.70 95.39L509.10 99.79M504.70 99.79L509.10 95.39" stroke="#008000" stroke-width="2.2" fill="none" stroke-linecap="round"/><text x="520.15" y="101.69" font-size="10.4" fill="#000" stroke="#000" stroke-width="0.3">Patient B</text><line x1="494.4" y1="110.48" x2="519.0" y2="110.48" stroke="#ff0000" stroke-width="2.2"/><path d="M504.70 108.28L509.10 112.68M504.70 112.68L509.10 108.28" stroke="#ff0000" stroke-width="2.2" fill="none" stroke-linecap="round"/><text x="520.15" y="114.58" font-size="10.4" fill="#000" stroke="#000" stroke-width="0.3">Patient C</text><line x1="494.4" y1="123.37" x2="519.0" y2="123.37" stroke="#00bfbf" stroke-width="2.2"/><path d="M504.70 121.17L509.10 125.57M504.70 125.57L509.10 121.17" stroke="#00bfbf" stroke-width="2.2" fill="none" stroke-linecap="round"/><text x="520.15" y="127.47" font-size="10.4" fill="#000" stroke="#000" stroke-width="0.3">Patient D</text><line x1="494.4" y1="136.26" x2="519.0" y2="136.26" stroke="#bf00bf" stroke-width="2.2"/><path d="M504.70 134.06L509.10 138.46M504.70 138.46L509.10 134.06" stroke="#bf00bf" stroke-width="2.2" fill="none" stroke-linecap="round"/><text x="520.15" y="140.36" font-size="10.4" fill="#000" stroke="#000" stroke-width="0.3">Patient E</text></svg>
</body></html>
